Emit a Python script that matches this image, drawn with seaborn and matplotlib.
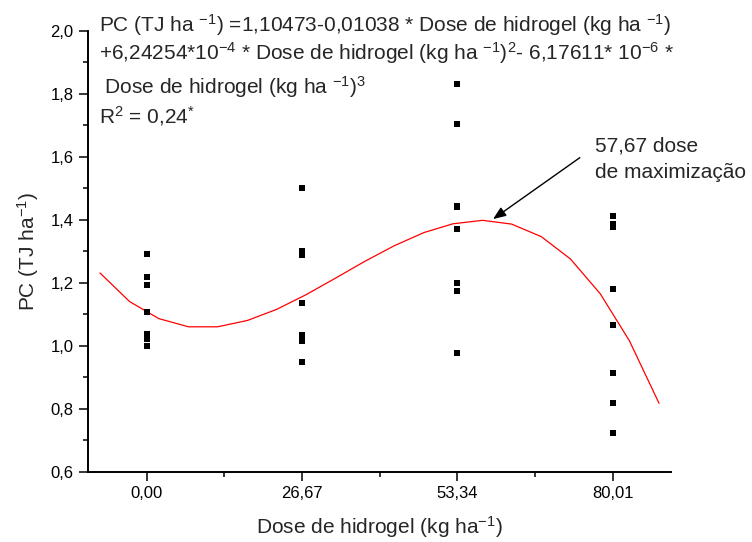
import matplotlib
matplotlib.use("Agg")
import matplotlib.pyplot as plt
import seaborn as sns
import pandas as pd
from matplotlib.ticker import FixedLocator, FuncFormatter

# ---- data ----
doses = [0.0, 26.67, 53.34, 80.01]
pc_dose_0 = [1.290, 1.217, 1.192, 1.106, 1.037, 1.022, 0.998]
pc_dose_26 = [1.500, 1.302, 1.289, 1.137, 1.034, 1.015, 0.948]
pc_dose_53 = [1.830, 1.705, 1.445, 1.440, 1.370, 1.198, 1.173, 0.976]
pc_dose_80 = [1.413, 1.385, 1.378, 1.180, 1.067, 0.912, 0.819, 0.722]

# fitted cubic curve (vertices of the drawn polyline)
curve_x = [-8.0, -2.9, 2.1, 7.2, 12.2, 17.3, 22.3, 27.4, 32.4, 37.5,
           42.5, 47.6, 52.6, 57.7, 62.7, 67.8, 72.8, 77.9, 82.9, 88.0]
curve_y = [1.231, 1.140, 1.086, 1.060, 1.060, 1.080, 1.115, 1.162, 1.214, 1.268,
           1.317, 1.359, 1.387, 1.398, 1.386, 1.346, 1.275, 1.165, 1.016, 0.817]

x_ticks = [0.0, 26.67, 53.34, 80.01]
x_tick_labels = ["0,00", "26,67", "53,34", "80,01"]
y_ticks = [0.6, 0.8, 1.0, 1.2, 1.4, 1.6, 1.8, 2.0]

rows = []
for d, vals in zip(doses, [pc_dose_0, pc_dose_26, pc_dose_53, pc_dose_80]):
    for v in vals:
        rows.append({"dose": d, "pc": v})
df = pd.DataFrame(rows)
curve = pd.DataFrame({"dose": curve_x, "pc": curve_y})

sns.set_style("ticks")
plt.rcParams["font.family"] = ["Liberation Sans", "DejaVu Sans"]
plt.rcParams["mathtext.fontset"] = "custom"
plt.rcParams["mathtext.rm"] = "Liberation Sans"
plt.rcParams["mathtext.it"] = "Liberation Sans:italic"
plt.rcParams["mathtext.bf"] = "Liberation Sans:bold"
plt.rcParams["mathtext.default"] = "regular"

W, H = 752, 542
fig = plt.figure(figsize=(W / 100, H / 100), dpi=100)
ax = fig.add_axes([88.3 / W, 1 - 471.7 / H, (670.7 - 88.3) / W, (471.7 - 30.7) / H])

sns.lineplot(data=curve, x="dose", y="pc", ax=ax, color="#ff0000", linewidth=0.9,
             sort=False, estimator=None)
sns.scatterplot(data=df, x="dose", y="pc", ax=ax, marker="s", color="black",
                s=18, linewidth=0, zorder=3)

ax.set_xlim(-10, 90)
ax.set_ylim(0.6, 2.0)
ax.xaxis.set_major_locator(FixedLocator(x_ticks))
ax.set_xticklabels(x_tick_labels)
ax.xaxis.set_minor_locator(FixedLocator([13.335, 40.005, 66.675]))
ax.yaxis.set_major_locator(FixedLocator(y_ticks))
ax.yaxis.set_minor_locator(FixedLocator([0.7, 0.9, 1.1, 1.3, 1.5, 1.7, 1.9]))
ax.yaxis.set_major_formatter(FuncFormatter(lambda v, p: f"{v:.1f}".replace(".", ",")))

for s in ["top", "right"]:
    ax.spines[s].set_visible(False)
for s in ["left", "bottom"]:
    ax.spines[s].set_linewidth(1.4)
    ax.spines[s].set_color("black")
ax.tick_params(which="major", direction="out", length=6.5, width=1.1, labelsize=12,
               pad=4, colors="black")
ax.tick_params(which="minor", direction="out", length=3.4, width=1.1, colors="black")

ax.set_xlabel(r"Dose de hidrogel (kg ha$^{-1}$)", fontsize=15, labelpad=9)
ax.set_ylabel(r"PC (TJ ha$^{-1}$)", fontsize=15, labelpad=7)

fs = 15
def ftext(px, py, s):
    fig.text(px / W, 1 - py / H, s, fontsize=fs, va="baseline", ha="left")

ftext(99.3, 31.7, r"PC (TJ ha $^{-1}$) =1,10473-0,01038 * Dose de hidrogel (kg ha $^{-1}$)")
ftext(99.3, 60.0, r"+6,24254*10$^{-4}$ * Dose de hidrogel (kg ha $^{-1}$)$^{2}$- 6,17611* 10$^{-6}$ *")
ftext(99.3, 93.3, r" Dose de hidrogel (kg ha $^{-1}$)$^{3}$")
ftext(99.3, 123.3, r"R$^{2}$ = 0,24$^{*}$")

# annotation: arrow and two text lines
ax.annotate("", xy=(59.5, 1.402), xytext=(74.4, 1.597),
            arrowprops=dict(arrowstyle="-|>,head_length=0.55,head_width=0.22",
                            color="black", lw=1.0, mutation_scale=14,
                            shrinkA=0, shrinkB=0),
            annotation_clip=False)
ax.text(77.0, 1.615, "57,67 dose", fontsize=fs, ha="left", va="baseline")
ax.text(77.0, 1.532, "de maximização", fontsize=fs, ha="left", va="baseline")

fig.savefig("out.png", dpi=100)
